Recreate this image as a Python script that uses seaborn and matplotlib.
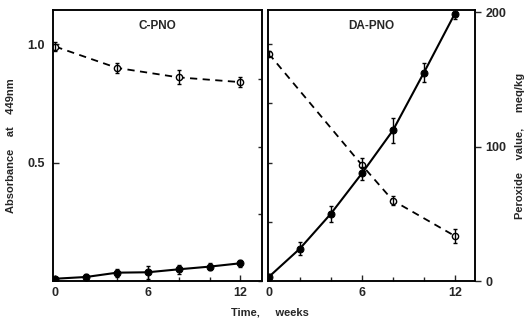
import matplotlib
matplotlib.use("Agg")
import matplotlib.pyplot as plt
import seaborn as sns
import pandas as pd

# --- data ---
# C-PNO panel
c_abs_weeks = [0, 4, 8, 12]
c_abs = [0.99, 0.90, 0.86, 0.84]
c_abs_err = [0.02, 0.02, 0.03, 0.02]
c_pv_weeks = [0, 2, 4, 6, 8, 10, 12]
c_pv = [1.7, 3.0, 6.2, 6.5, 8.7, 10.7, 13.2]
c_pv_err = [1.5, 2.5, 3.0, 5.0, 3.5, 2.5, 2.5]

# DA-PNO panel
d_abs_weeks = [0, 6, 8, 12]
d_abs = [0.96, 0.49, 0.34, 0.19]
d_abs_err = [0.01, 0.03, 0.02, 0.03]
d_pv_weeks = [0, 2, 4, 6, 8, 10, 12]
d_pv = [3, 24, 50, 80, 112, 155, 199]
d_pv_err = [2, 5, 6, 5, 9, 7, 4]

panel_titles = ["C-PNO", "DA-PNO"]

sns.set_style("ticks")
plt.rcParams["font.family"] = ["Liberation Sans", "DejaVu Sans"]
plt.rcParams["font.weight"] = "bold"
plt.rcParams["font.size"] = 8

ABS_TOP = 1.144
PV_TOP = 201.5

fig = plt.figure(figsize=(5.27, 3.24), dpi=100)
ax1 = fig.add_axes([0.1006, 0.1327, 0.3966, 0.836])
ax2 = fig.add_axes([0.5085, 0.1327, 0.393, 0.836])


def draw_panel(ax, title, aw, av, ae, pw, pv, pe, right_labels):
    tw = ax.twinx()
    abs_df = pd.DataFrame({"week": aw, "value": av})
    pv_df = pd.DataFrame({"week": pw, "value": pv})

    sns.lineplot(data=abs_df, x="week", y="value", ax=ax, color="black",
                 linestyle=(0, (4, 3)), linewidth=1.3, marker="o",
                 markersize=4.5, markerfacecolor="white",
                 markeredgecolor="black", markeredgewidth=1.0)
    ax.errorbar(aw, av, yerr=ae, fmt="none", ecolor="black",
                elinewidth=1.0, capsize=1.5)

    sns.lineplot(data=pv_df, x="week", y="value", ax=tw, color="black",
                 linewidth=1.5, marker="o", markersize=5,
                 markerfacecolor="black", markeredgecolor="black")
    tw.errorbar(pw, pv, yerr=pe, fmt="none", ecolor="black",
                elinewidth=1.0, capsize=1.5)

    ax.set_ylim(0, ABS_TOP)
    tw.set_ylim(0, PV_TOP)
    ax.set_xlabel("")
    ax.set_ylabel("")
    tw.set_ylabel("")
    ax.text(0.5, 0.965, title, transform=ax.transAxes, ha="center",
            va="top", fontsize=8.5, fontweight="bold")

    ax.set_xticks([0, 6, 12])
    ax.set_xticks([2, 4, 8, 10], minor=True)
    ax.tick_params(axis="x", which="major", direction="in", length=4,
                   width=1, pad=4, labelsize=9)
    ax.tick_params(axis="x", which="minor", direction="in", length=3,
                   width=1)

    if right_labels:
        tw.set_yticks([0, 100, 200])
        tw.tick_params(axis="y", direction="out", length=4, width=1,
                       labelsize=9)
        tw.set_ylabel("Peroxide    value,     meq/kg", fontsize=8,
                      fontweight="bold", labelpad=6)
    else:
        tw.set_yticks([0, 50, 100, 150])
        tw.set_yticklabels([])
        tw.tick_params(axis="y", direction="in", length=3, width=1)

    for a in (ax, tw):
        for s in a.spines.values():
            s.set_linewidth(1.1)
            s.set_color("black")
    return tw


tw1 = draw_panel(ax1, panel_titles[0], c_abs_weeks, c_abs, c_abs_err,
                 c_pv_weeks, c_pv, c_pv_err, right_labels=False)
tw2 = draw_panel(ax2, panel_titles[1], d_abs_weeks, d_abs, d_abs_err,
                 d_pv_weeks, d_pv, d_pv_err, right_labels=True)

ax1.set_xlim(-0.15, 13.4)
ax2.set_xlim(-0.05, 13.3)

ax1.set_yticks([0.5, 1.0])
ax1.set_yticklabels(["0.5", "1.0"])
ax1.tick_params(axis="y", direction="in", length=4, width=1, labelsize=9,
                pad=6)
ax1.set_ylabel("Absorbance    at    449nm", fontsize=8, fontweight="bold",
               labelpad=8)

ax2.set_yticks([0.25, 0.5, 0.75, 1.0])
ax2.set_yticklabels([])
ax2.tick_params(axis="y", direction="in", length=3, width=1)

for lab in (ax1.get_xticklabels() + ax2.get_xticklabels()
            + ax1.get_yticklabels() + tw2.get_yticklabels()):
    lab.set_fontweight("bold")

fig.text(0.513, 0.035, "Time,     weeks", ha="center", va="center",
         fontsize=8, fontweight="bold")

fig.savefig("out.png", dpi=100)
